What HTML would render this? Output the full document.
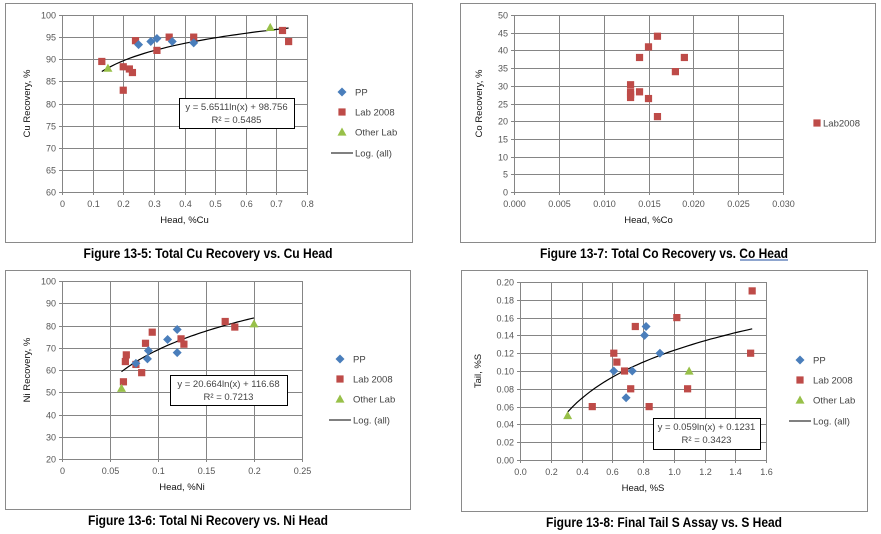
<!DOCTYPE html>
<html><head><meta charset="utf-8">
<style>
html,body{margin:0;padding:0;background:#fff;}
svg{display:block;}
text{font-family:"Liberation Sans",sans-serif;}
.tick{font-size:9px;fill:#555;}
.ttl{font-size:9.5px;fill:#111;}
.leg{font-size:9.5px;fill:#444;}
.cap{font-family:"Liberation Sans Narrow","Liberation Sans",sans-serif;font-weight:bold;font-size:13.5px;fill:#000;}
</style></head>
<body>
<svg id="root" width="881" height="534" viewBox="0 0 881 534" xmlns="http://www.w3.org/2000/svg"></svg>
<script>
// ---- Chart 1: Cu ----
const cuPPx=[0.25,0.29,0.31,0.36,0.43];
const cuPPy=[93.3,94,94.7,94,93.7];
const cuLabx=[0.13,0.20,0.20,0.22,0.23,0.24,0.31,0.35,0.43,0.72,0.74];
const cuLaby=[89.5,83,88.3,87.8,87,94.2,92,95,95,96.5,94];
const cuOthx=[0.15,0.68];
const cuOthy=[88,97.2];
const cuXTicks=["0","0.1","0.2","0.3","0.4","0.5","0.6","0.7","0.8"];
const cuYTicks=["60","65","70","75","80","85","90","95","100"];
const cuFit=[5.6511,98.756,0.13,0.74];
// ---- Chart 2: Co ----
const coLabx=[0.013,0.013,0.013,0.013,0.014,0.014,0.015,0.015,0.016,0.016,0.018,0.019];
const coLaby=[30.3,28.2,27.5,26.7,38,28.3,41,26.4,44,21.3,34,38];
const coXTicks=["0.000","0.005","0.010","0.015","0.020","0.025","0.030"];
const coYTicks=["0","5","10","15","20","25","30","35","40","45","50"];
// ---- Chart 3: Ni ----
const niPPx=[0.077,0.089,0.09,0.11,0.12,0.12];
const niPPy=[63,65,68.7,73.7,78.2,67.8];
const niLabx=[0.064,0.066,0.067,0.077,0.083,0.087,0.094,0.124,0.127,0.17,0.18];
const niLaby=[54.7,63.8,66.8,62.5,58.8,72,77,74,71.6,81.8,79.3];
const niOthx=[0.062,0.2];
const niOthy=[51.8,80.8];
const niXTicks=["0","0.05","0.1","0.15","0.2","0.25"];
const niYTicks=["20","30","40","50","60","70","80","90","100"];
const niFit=[20.664,116.68,0.062,0.2];
// ---- Chart 4: S ----
const sPPx=[0.61,0.69,0.73,0.81,0.82,0.91];
const sPPy=[0.10,0.07,0.10,0.14,0.15,0.12];
const sLabx=[0.47,0.61,0.63,0.68,0.72,0.75,0.84,1.02,1.09,1.50,1.51];
const sLaby=[0.06,0.12,0.11,0.10,0.08,0.15,0.06,0.16,0.08,0.12,0.19];
const sOthx=[0.31,1.1];
const sOthy=[0.05,0.10];
const sXTicks=["0.0","0.2","0.4","0.6","0.8","1.0","1.2","1.4","1.6"];
const sYTicks=["0.00","0.02","0.04","0.06","0.08","0.10","0.12","0.14","0.16","0.18","0.20"];
const sFit=[0.059,0.1231,0.31,1.51];

const NS="http://www.w3.org/2000/svg";
const root=document.getElementById('root');
function mk(tag,attrs,parent,txt){const e=document.createElementNS(NS,tag);for(const k in attrs)e.setAttribute(k,attrs[k]);if(txt!==undefined)e.textContent=txt;(parent||root).appendChild(e);return e;}
const BLUE="#4a7ebb",RED="#be4b48",GREEN="#98c049";

function diamond(g,x,y){const s=4.5;const e=mk('polygon',{points:`${x},${y-s} ${x+s},${y} ${x},${y+s} ${x-s},${y}`,fill:BLUE},g);

}
function square(g,x,y){const s=3.6;const e=mk('rect',{x:x-s,y:y-s,width:2*s,height:2*s,fill:RED},g);

}
function tri(g,x,y){const s=4.5;const e=mk('polygon',{points:`${x},${y-s} ${x+s},${y+s*0.8} ${x-s},${y+s*0.8}`,fill:GREEN},g);

}

function chart(c){
  const g=mk('g',{},root);
  
  
  const fr=mk('rect',{x:c.box[0]+0.5,y:c.box[1]+0.5,width:c.box[2],height:c.box[3],fill:'#fff',stroke:'#8a8a8a','stroke-width':1},g);
  
  
  const [px0,px1,py0,py1]=c.plot;
  const xmin=+c.xt[0],xmax=+c.xt[c.xt.length-1],ymin=+c.yt[0],ymax=+c.yt[c.yt.length-1];
  const X=v=>px0+(v-xmin)/(xmax-xmin)*(px1-px0);
  const Y=v=>py0-(v-ymin)/(ymax-ymin)*(py0-py1);
  c.xt.forEach(t=>{const x=Math.round(X(+t))+0.5;
    const l=mk('line',{x1:x,x2:x,y1:py1,y2:py0+3,stroke:'#858585','stroke-width':1},g);
    
    
    const tx=mk('text',{x:x,y:py0+15,'text-anchor':'middle',class:'tick'},g,t);
    
    });
  c.yt.forEach(t=>{const y=Math.round(Y(+t))+0.5;
    const l=mk('line',{x1:px0-3,x2:px1,y1:y,y2:y,stroke:'#858585','stroke-width':1},g);
    
    
    const tx=mk('text',{x:px0-6,y:y+3,'text-anchor':'end',class:'tick'},g,t);
    
    });
  const xt=mk('text',{x:(px0+px1)/2,y:py0+31,'text-anchor':'middle',class:'ttl'},g,c.xtitle);
  
  
  const yc=(py0+py1)/2;
  const yt=mk('text',{x:c.ytx,y:yc,'text-anchor':'middle',class:'ttl',transform:`rotate(-90 ${c.ytx} ${yc})`},g,c.ytitle);
  
  
  if(c.fit){const [a,b,x0,x1]=c.fit;let d='';const n=40;
    for(let i=0;i<=n;i++){const xv=x0+(x1-x0)*i/n;d+=(i?'L':'M')+X(xv).toFixed(1)+','+Y(a*Math.log(xv)+b).toFixed(1);}
    const p=mk('path',{d:d,fill:'none',stroke:'#000','stroke-width':1.2},g);
    
    }
  if(c.lab)c.lab[0].forEach((v,i)=>square(g,X(v),Y(c.lab[1][i])));
  if(c.pp)c.pp[0].forEach((v,i)=>diamond(g,X(v),Y(c.pp[1][i])));
  if(c.oth)c.oth[0].forEach((v,i)=>tri(g,X(v),Y(c.oth[1][i])));
  if(c.eqbox){const [bx,by,bw,bh]=c.eqbox;
    const r=mk('rect',{x:bx+0.5,y:by+0.5,width:bw,height:bh,fill:'#fff',stroke:'#000','stroke-width':1},g);
    
    
    const t1=mk('text',{x:bx+bw/2,y:by+12,'text-anchor':'middle',class:'leg'},g,c.eq);
    
    
    const t2=mk('text',{x:bx+bw/2,y:by+25,'text-anchor':'middle',class:'leg'},g,c.r2);
    
    }
  if(c.legend){const [lx,ly]=c.legend;
    diamond(g,lx,ly);
    const a=mk('text',{x:lx+13,y:ly+3.5,class:'leg'},g,'PP');
    square(g,lx,ly+20);
    const b=mk('text',{x:lx+13,y:ly+23.5,class:'leg'},g,'Lab 2008');
    tri(g,lx,ly+40);
    const d=mk('text',{x:lx+13,y:ly+43.5,class:'leg'},g,'Other Lab');
    const l=mk('line',{x1:lx-11,x2:lx+11,y1:ly+61,y2:ly+61,stroke:'#000','stroke-width':1},g);
    const e=mk('text',{x:lx+13,y:ly+64.5,class:'leg'},g,'Log. (all)');}
  if(c.legend2){const [lx,ly]=c.legend2;square(g,lx,ly);
    const t=mk('text',{x:lx+6,y:ly+3.5,class:'leg'},g,'Lab2008');}
  const cp=mk('text',{x:c.cap[0],y:c.cap[1],'text-anchor':'middle',class:'cap',textLength:c.cap[3],lengthAdjust:'spacingAndGlyphs'},g,c.cap[2]);
  
  
  if(c.underline){const u=mk('line',{x1:c.underline[0],x2:c.underline[1],y1:c.cap[1]+2,y2:c.cap[1]+2,stroke:'#1f4e9f','stroke-width':1},g);
    }
}

chart({name:'cu-recovery-chart',box:[5,3,407,239],plot:[62,307,192,15],xt:cuXTicks,yt:cuYTicks,
  xtitle:'Head, %Cu',ytitle:'Cu Recovery, %',ytx:30,fit:cuFit,
  pp:[cuPPx,cuPPy],lab:[cuLabx,cuLaby],oth:[cuOthx,cuOthy],
  eqbox:[179,98,115,30],eq:'y = 5.6511ln(x) + 98.756',r2:'R² = 0.5485',legend:[342,92],
  cap:[208,258,'Figure 13-5: Total Cu Recovery vs. Cu Head',249]});
chart({name:'co-recovery-chart',box:[460,3,415,239],plot:[514,783,192,15],xt:coXTicks,yt:coYTicks,
  xtitle:'Head, %Co',ytitle:'Co Recovery, %',ytx:482,
  lab:[coLabx,coLaby],legend2:[817,123],
  cap:[664,258,'Figure 13-7: Total Co Recovery vs. Co Head',248],underline:[740,788]});
chart({name:'ni-recovery-chart',box:[5,270,405,239],plot:[62,302,459,281],xt:niXTicks,yt:niYTicks,
  xtitle:'Head, %Ni',ytitle:'Ni Recovery, %',ytx:30,fit:niFit,
  pp:[niPPx,niPPy],lab:[niLabx,niLaby],oth:[niOthx,niOthy],
  eqbox:[170,375,117,30],eq:'y = 20.664ln(x) + 116.68',r2:'R² = 0.7213',legend:[340,359],
  cap:[208,525,'Figure 13-6: Total Ni Recovery vs. Ni Head',240]});
chart({name:'s-tail-chart',box:[461,270,406,241],plot:[520,766,460,282],xt:sXTicks,yt:sYTicks,
  xtitle:'Head, %S',ytitle:'Tail, %S',ytx:481,fit:sFit,
  pp:[sPPx,sPPy],lab:[sLabx,sLaby],oth:[sOthx,sOthy],
  eqbox:[653,418,107,31],eq:'y = 0.059ln(x) + 0.1231',r2:'R² = 0.3423',legend:[800,360],
  cap:[664,527,'Figure 13-8: Final Tail S Assay vs. S Head',236]});
</script>
</body></html>
